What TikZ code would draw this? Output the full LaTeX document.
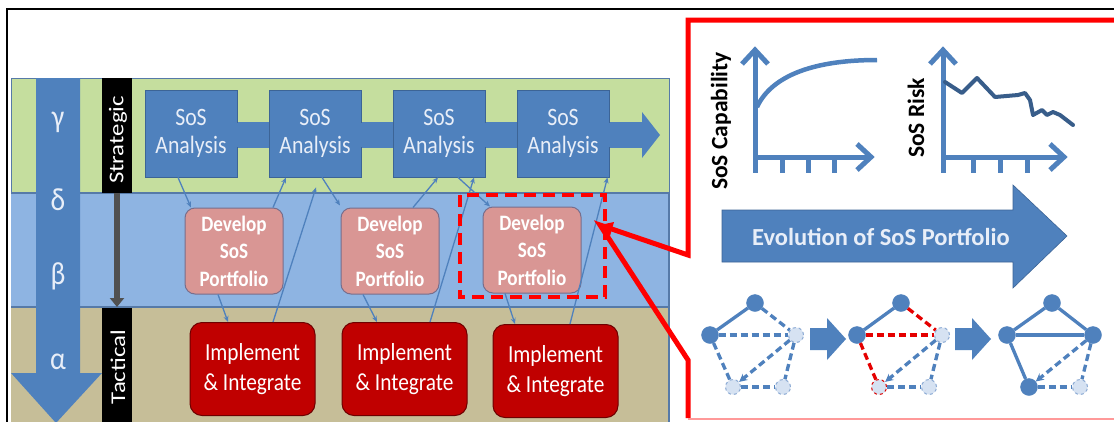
\documentclass[tikz,border=0pt]{standalone}
\usepackage{fontspec}
\setmainfont{Carlito}
\newfontfamily\tallfont{Carlito}[FakeStretch=0.87]
\newfontfamily\longfont{Carlito}[FakeStretch=1.18]
\usetikzlibrary{arrows.meta,calc}
\definecolor{bandgreen}{RGB}{197,222,158}
\definecolor{bandblue}{RGB}{142,180,226}
\definecolor{bandtan}{RGB}{198,190,152}
\definecolor{bandline}{RGB}{86,122,168}
\definecolor{boxblue}{RGB}{79,129,189}
\definecolor{boxedge}{RGB}{60,100,150}
\definecolor{salmon}{RGB}{217,150,148}
\definecolor{salmonedge}{RGB}{120,110,140}
\definecolor{impred}{RGB}{192,0,0}
\definecolor{impedge}{RGB}{110,0,0}
\definecolor{riskblue}{RGB}{56,93,138}
\definecolor{lightnode}{RGB}{214,226,242}
\definecolor{lightedge}{RGB}{140,170,212}
\definecolor{paletext}{RGB}{232,238,248}
\begin{document}
\begin{tikzpicture}[x=1pt,y=-1pt,
  sosbox/.style={fill=boxblue,draw=boxedge,line width=0.8pt,minimum width=92pt,minimum height=87pt,inner sep=0pt,align=center,text=paletext,font=\tallfont\fontsize{25}{27.5}\selectfont},
  devbox/.style={fill=salmon,draw=salmonedge,line width=1pt,rounded corners=10pt,minimum width=98pt,minimum height=86pt,inner sep=0pt,align=center,text=white,font=\tallfont\bfseries\fontsize{22}{27.5}\selectfont},
  impbox/.style={fill=impred,draw=impedge,line width=1pt,rounded corners=12pt,minimum width=125pt,minimum height=93pt,inner sep=0pt,align=center,text=white,font=\tallfont\fontsize{24.5}{30}\selectfont},
  link/.style={draw=boxblue,line width=1.3pt,-{Stealth[length=6pt,width=5pt]}},
  greek/.style={text=paletext,font=\tallfont\fontsize{32}{32}\selectfont},
  bartext/.style={rotate=90,text=white,font=\longfont\fontsize{21}{21}\selectfont},
  axis/.style={draw=boxblue,line width=5pt,line join=miter},
  chartlabel/.style={rotate=90,text=black,font=\bfseries\fontsize{23.5}{23.5}\selectfont},
  solidnode/.style={circle,fill=boxblue,draw=boxblue,minimum size=17pt,inner sep=0pt},
  lightnd/.style={circle,fill=lightnode,draw=lightedge,dashed,line width=1pt,minimum size=15pt,inner sep=0pt},
  rednd/.style={circle,fill=lightnode,draw=red!85!black,dashed,line width=1pt,minimum size=15pt,inner sep=0pt},
  sedge/.style={draw=boxblue,line width=3.3pt},
  dedge/.style={draw=boxblue,line width=3.3pt,dash pattern=on 7pt off 4pt},
  redge/.style={draw=red!90!black,line width=3.3pt,dash pattern=on 7pt off 4pt},
  tipd/.style={-{Stealth[length=8pt,width=8pt]}}
]
\useasboundingbox (0,0) rectangle (1114,421);
\clip (0,0) rectangle (1114,421);
\fill[white] (0,0) rectangle (1114,421);

% bands
\fill[bandgreen] (11,78) rectangle (669,193);
\fill[bandblue] (11,193) rectangle (669,307);
\fill[bandtan] (11,307) rectangle (669,425);
\draw[bandline,line width=1pt] (11,78) rectangle (669,193);
\draw[bandline,line width=1.5pt] (11,193) -- (669,193) (11,307) -- (669,307) (669,193) -- (669,425);

% big left arrow
\fill[boxblue] (36,78) -- (80,78) -- (80,373) -- (102,373) -- (56,423) -- (11,373) -- (36,373) -- cycle;
\node[greek] (g1) at (58,122) {γ};
\node[greek] (g2) at (58,200) {δ};
\node[greek] (g3) at (58,276) {β};
\node[greek] (g4) at (58,362) {α};

% black bars
\fill[black] (102,78) rectangle (132,193);
\fill[black] (102,308) rectangle (132,425);
\node[bartext] (strat) at (118,140) {Strategic};
\node[bartext] (tact) at (118,367) {Tactical};
\coordinate (ga) at (117,193);
\coordinate (gb) at (117,307);
\draw[draw={rgb,255:red,80;green,80;blue,80},line width=6pt,-{Triangle[length=9pt,width=14pt]}] (ga) -- (gb);

% strategic chain
\fill[boxblue] (191,122) rectangle (642,148);
\fill[boxblue] (642,112) -- (660,135) -- (642,158) -- cycle;
\node[sosbox] (sos1) at (191,133.5) {SoS\\Analysis};
\node[sosbox] (sos2) at (315,133.5) {SoS\\Analysis};
\node[sosbox] (sos3) at (439,133.5) {SoS\\Analysis};
\node[sosbox] (sos4) at (563,133.5) {SoS\\Analysis};
\fill[boxblue] (sos1.east|-0,123) rectangle (sos2.west|-0,147);
\fill[boxblue] (sos2.east|-0,123) rectangle (sos3.west|-0,147);
\fill[boxblue] (sos3.east|-0,123) rectangle (sos4.west|-0,147);
\fill[boxblue] (sos4.east|-0,123) rectangle (642,147);

% develop boxes
\node[devbox] (dev1) at (234,251) {Develop\\SoS\\Portfolio};
\node[devbox] (dev2) at (390,251) {Develop\\SoS\\Portfolio};
\node[devbox] (dev3) at (532,250) {Develop\\SoS\\Portfolio};

% implement boxes
\node[impbox] (imp1) at (252.5,369) {Implement\\\& Integrate};
\node[impbox] (imp2) at (404.5,369) {Implement\\\& Integrate};
\node[impbox] (imp3) at (555.5,371) {Implement\\\& Integrate};

% connectors
\draw[link] ([xshift=-13pt]sos1.south) -- ([xshift=-43pt]dev1.north);
\draw[link] ([xshift=39pt]dev1.north) -- ([xshift=-29pt]sos2.south);
\draw[link] ([xshift=-16pt]dev1.south) -- ([xshift=-24.5pt]imp1.north);
\draw[link] ([xshift=20.5pt]imp1.north) -- ([xshift=1pt,yshift=-10pt]sos2.south);
\draw[link] ([xshift=7pt]sos2.south) -- ([xshift=-50pt,yshift=2pt]dev2.north);
\draw[link] ([xshift=23pt]dev2.north) -- ([xshift=-1pt]sos3.south);
\draw[link] ([xshift=-27pt]dev2.south) -- ([xshift=-27.5pt]imp2.north);
\draw[link] ([xshift=25.5pt]imp2.north) -- ([xshift=35pt]sos3.south);
\draw[link] ([xshift=19pt]sos3.south) -- ([xshift=-42pt]dev3.north);
\draw[link] ([xshift=-27pt]dev3.south) -- ([xshift=-40.5pt]imp3.north);
\draw[link] ([xshift=14.5pt]imp3.north) -- ([xshift=44.5pt]sos4.south);

% red dashed highlight
\draw[red,line width=4pt,dash pattern=on 12pt off 7pt] (460,195) rectangle (605,297);

% red callout frame
\draw[red,line width=5pt,line join=miter] (1125,20) -- (688,20) -- (688,255) -- (600,225) -- (688,360) -- (688,418);
\draw[red!40,line width=2pt] (688,419) -- (1125,419);
\fill[red,line width=1pt] (600,225) -- (614,222) -- (610,236) -- cycle;

% outer black frame
\draw[black,line width=2.5pt] (7,425) -- (7,9) -- (1120,9);

% chart 1
\draw[axis] (755,50) -- (755,157) -- (870,157);
\draw[axis] (742,64) -- (755,50) -- (768,64);
\draw[axis] (857,144) -- (871,157) -- (857,170);
\foreach \tx in {782,808,834} \draw[axis] (\tx,157) -- (\tx,173);
\draw[axis] (755,157) -- (755,173);
\draw[draw=boxblue,line width=4.5pt] (757,107) .. controls (772,75) and (815,60) .. (877,60);
\node[chartlabel] (cap) at (721,121) {SoS Capability};

% chart 2
\draw[axis] (943,50) -- (943,157) -- (1063,157);
\draw[axis] (930,64) -- (943,50) -- (956,64);
\draw[axis] (1050,144) -- (1064,157) -- (1050,170);
\foreach \tx in {973,1000,1027} \draw[axis] (\tx,157) -- (\tx,173);
\draw[axis] (943,157) -- (943,173);
\draw[draw=riskblue,line width=4pt,line join=round,line cap=round] (945,82) -- (962,93) -- (977,78) -- (995,97) -- (1018,95) -- (1025,93) -- (1030,100) -- (1033,115) -- (1042,110) -- (1047,115) -- (1053,112) -- (1060,115) -- (1073,125);
\node[chartlabel] (risk) at (916,118) {SoS Risk};

% evolution arrow
\filldraw[fill=boxblue,draw=boxedge,line width=0.6pt] (722,210) -- (1013,210) -- (1013,185) -- (1067,236) -- (1013,288) -- (1013,262) -- (722,262) -- cycle;
\node[text=paletext,font=\bfseries\fontsize{24.5}{24.5}\selectfont] (evo) at (881,237) {Evolution of SoS Portfolio};

% block arrows between networks
\fill[boxblue] (810,328) -- (827,328) -- (827,318) -- (846,339) -- (827,360) -- (827,350) -- (810,350) -- cycle;
\fill[boxblue] (955,328) -- (972,328) -- (972,318) -- (991,339) -- (972,360) -- (972,350) -- (955,350) -- cycle;

% network A
\begin{scope}[shift={(710,303)}]
\node[solidnode] (at) at (45,0) {};
\node[solidnode] (al) at (0,32) {};
\node[lightnd] (ar) at (86,32) {};
\node[lightnd] (abl) at (23,84) {};
\node[lightnd] (abr) at (73,84) {};
\draw[sedge] (at) -- (al);
\draw[dedge] (at) -- (ar);
\draw[dedge] (al) -- (ar);
\draw[dedge] (al) -- (abl);
\draw[dedge,tipd] (ar) -- (abl);
\draw[dedge] (abl) -- (abr);
\draw[dedge] (ar) -- (abr);
\end{scope}

% network B
\begin{scope}[shift={(857,303)}]
\node[solidnode] (bt) at (44,0) {};
\node[solidnode] (bl) at (0,32) {};
\node[lightnd] (br) at (85,32) {};
\node[rednd] (bbl) at (22,84) {};
\node[lightnd] (bbr) at (72,84) {};
\draw[sedge] (bt) -- (bl);
\draw[redge] (bt) -- (br);
\draw[redge] (bl) -- (br);
\draw[redge] (bl) -- (bbl);
\draw[dedge,tipd] (br) -- (bbl);
\draw[dedge] (bbl) -- (bbr);
\draw[dedge] (br) -- (bbr);
\end{scope}

% network C
\begin{scope}[shift={(1007,303)}]
\node[solidnode] (ct) at (45,0) {};
\node[solidnode] (cl) at (0,32) {};
\node[solidnode] (cr) at (86,32) {};
\node[solidnode] (cbl) at (22,84) {};
\node[lightnd] (cbr) at (73,84) {};
\draw[sedge] (ct) -- (cl);
\draw[sedge] (ct) -- (cr);
\draw[sedge] (cl) -- (cr);
\draw[sedge] (cl) -- (cbl);
\draw[dedge,tipd] (cr) -- (cbl);
\draw[dedge] (cbl) -- (cbr);
\draw[dedge] (cr) -- (cbr);
\end{scope}
\end{tikzpicture}
\end{document}
